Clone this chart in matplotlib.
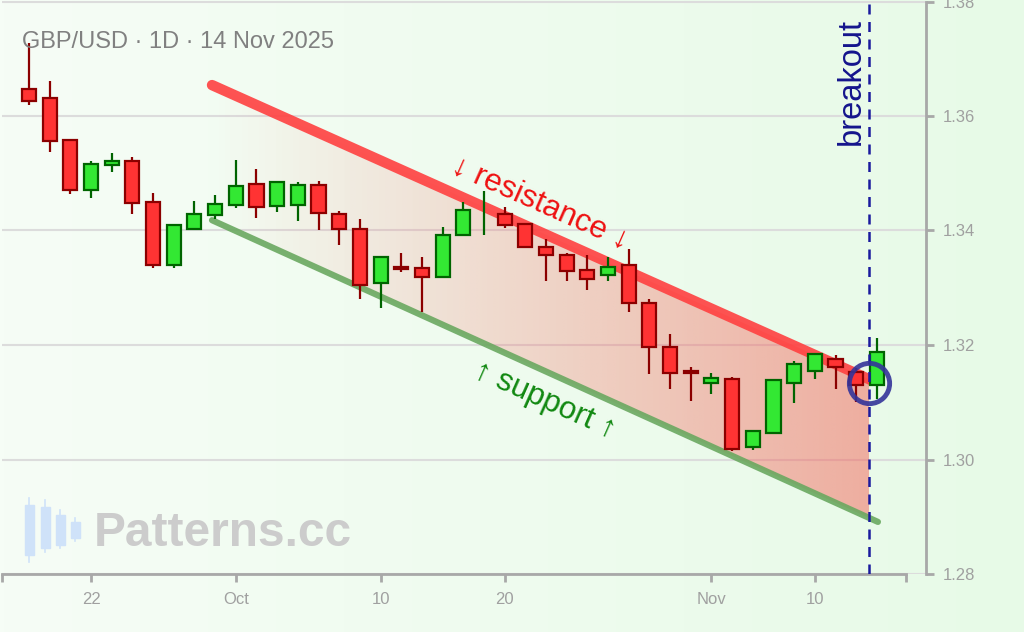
import numpy as np
import matplotlib
matplotlib.use("Agg")
import matplotlib.pyplot as plt
from matplotlib.patches import Polygon, Rectangle

plt.rcParams['font.family'] = ['Liberation Sans', 'DejaVu Sans']

# daily GBP/USD candles, 17 Sep - 13 Nov 2025 (trading days only)
opens = [1.3648, 1.3631, 1.3558, 1.3470, 1.3514, 1.3522, 1.3449, 1.3340, 1.3403, 1.3427,
         1.3445, 1.3481, 1.3442, 1.3445, 1.3480, 1.3428, 1.3403, 1.3309, 1.3337, 1.3334,
         1.3318, 1.3392, 1.3420, 1.3429, 1.3411, 1.3372, 1.3358, 1.3331, 1.3322, 1.3340,
         1.3274, 1.3197, 1.3155, 1.3134, 1.3141, 1.3022, 1.3046, 1.3134, 1.3155, 1.3176,
         1.3152, 1.3131]
closes = [1.3626, 1.3556, 1.3470, 1.3516, 1.3522, 1.3448, 1.3340, 1.3410, 1.3428, 1.3446,
          1.3477, 1.3441, 1.3484, 1.3480, 1.3431, 1.3403, 1.3305, 1.3354, 1.3332, 1.3318,
          1.3393, 1.3435, 1.3420, 1.3410, 1.3371, 1.3357, 1.3329, 1.3315, 1.3337, 1.3273,
          1.3196, 1.3151, 1.3151, 1.3142, 1.3018, 1.3050, 1.3138, 1.3166, 1.3184, 1.3162,
          1.3131, 1.3187]
highs = [1.3727, 1.3661, 1.3559, 1.3521, 1.3535, 1.3528, 1.3466, 1.3412, 1.3452, 1.3462,
         1.3524, 1.3507, 1.3485, 1.3485, 1.3486, 1.3434, 1.3420, 1.3355, 1.3360, 1.3353,
         1.3406, 1.3449, 1.3469, 1.3441, 1.3413, 1.3385, 1.3360, 1.3357, 1.3353, 1.3368,
         1.3280, 1.3220, 1.3161, 1.3151, 1.3144, 1.3051, 1.3140, 1.3172, 1.3185, 1.3183,
         1.3160, 1.3213]
lows = [1.3620, 1.3537, 1.3463, 1.3456, 1.3502, 1.3428, 1.3334, 1.3334, 1.3400, 1.3420,
        1.3439, 1.3421, 1.3432, 1.3417, 1.3400, 1.3375, 1.3281, 1.3264, 1.3327, 1.3257,
        1.3317, 1.3391, 1.3393, 1.3404, 1.3370, 1.3312, 1.3312, 1.3296, 1.3312, 1.3257,
        1.3149, 1.3124, 1.3103, 1.3114, 1.3014, 1.3017, 1.3045, 1.3099, 1.3141, 1.3124,
        1.3100, 1.3105]

tick_pos = [3, 10, 17, 23, 33, 38]
tick_labels = ['22', 'Oct', '10', '20', 'Nov', '10']
y_ticks = [1.28, 1.30, 1.32, 1.34, 1.36, 1.38]

# channel lines (x in candle index)
res_x = [8.85, 40.76]
res_y = [1.3654, 1.3138]
sup_x = [8.85, 41.05]
sup_y = [1.3418, 1.2891]
breakout_x = 40.62
breakout_price = 1.3134

fig = plt.figure(figsize=(10.24, 6.32), dpi=100)

# background
bg = fig.add_axes([0, 0, 1, 1], zorder=-5)
grad = np.linspace(0, 1, 256)
c0 = np.array([246, 253, 246]) / 255
c1 = np.array([231, 250, 231]) / 255
img = c0[None, None, :] * (1 - grad[None, :, None]) + c1[None, None, :] * grad[None, :, None]
bg.imshow(img, aspect='auto', extent=[0, 1024, 632, 0])
bg.set_xlim(0, 1024)
bg.set_ylim(632, 0)
bg.axis('off')

# watermark
for cx, b0, b1, w0, w1 in [(29, 505, 555, 498, 562), (45, 507, 548, 500, 552),
                           (60, 515, 545, 510, 548), (75, 522, 538, 518, 541)]:
    bg.plot([cx, cx], [w0, w1], color='#cfe2f9', lw=1.2)
    bg.add_patch(Rectangle((cx - 4.5, b0), 9, b1 - b0, color='#cfe2f9'))
bg.text(94, 534, 'Patterns.cc', fontsize=34.5, fontweight='bold', color='#cccccc',
        va='center', ha='left')

ax = fig.add_axes([2 / 1024, 58 / 632, 924 / 1024, 572.5 / 632])
ax.set_facecolor('none')
ax.set_xlim(-1.306, 43.375)
ax.set_ylim(1.28, 1.38)

for yv in y_ticks:
    ax.axhline(yv, color='#dcdcdc', lw=1.5, zorder=0)

x = np.arange(len(opens))

# gradient channel fill
xa, xb = res_x[0], breakout_x
ra, rb = np.interp([xa, xb], res_x, res_y)
sa, sb = np.interp([xa, xb], sup_x, sup_y)
poly = Polygon([(xa, ra), (xb, rb), (xb, sb), (xa, sa)], closed=True,
               facecolor='none', edgecolor='none')
ax.add_patch(poly)
alpha = np.linspace(0.0, 0.45, 256)
fill = np.zeros((2, 256, 4))
fill[..., 0] = 245 / 255
fill[..., 1] = 80 / 255
fill[..., 2] = 70 / 255
fill[..., 3] = alpha[None, :]
im = ax.imshow(fill, aspect='auto', extent=[xa, xb, sb, ra], zorder=1, interpolation='bilinear')
im.set_clip_path(poly)
ax.set_xlim(-1.306, 43.375)
ax.set_ylim(1.28, 1.38)

# channel lines
ax.plot(sup_x, sup_y, color='#6aa860', lw=4.5, alpha=0.9, solid_capstyle='round', zorder=2)
ax.plot(res_x, res_y, color='#ff4040', lw=7.5, alpha=0.9, solid_capstyle='round', zorder=2)

# candles
for i in x:
    o, c, h, l = opens[i], closes[i], highs[i], lows[i]
    up = c >= o
    edge = '#006400' if up else '#8b0000'
    face = '#33e833' if up else '#ff3333'
    ax.vlines(i, l, h, color=edge, lw=1.6, zorder=3)
    if o != c:
        ax.bar(i, abs(c - o), bottom=min(o, c), width=0.68, color=face,
               edgecolor=edge, linewidth=1.6, zorder=4)

# breakout marker
ax.axvline(breakout_x, color='#1a1a9e', lw=1.8, ls=(0, (4, 3)), zorder=5)
ax.plot([breakout_x], [breakout_price], marker='o', ms=29, mfc='none',
        mec='#34349a', mew=3.5, alpha=0.9, zorder=6)
ax.text(breakout_x - 0.85, 1.3660, 'breakout', rotation=90, fontsize=23.5,
        color='#14148c', ha='center', va='center')

ax.text(24.7, 1.3447, '↓ resistance ↓', rotation=-24, fontsize=22.5, color='#ee1111',
        ha='center', va='center', rotation_mode='anchor')
ax.text(24.95, 1.3104, '↑ support ↑', rotation=-24, fontsize=22.5, color='#118811',
        ha='center', va='center', rotation_mode='anchor')

ax.text(0.022, 0.93, 'GBP/USD · 1D · 14 Nov 2025', transform=ax.transAxes,
        fontsize=17, color='#808080', ha='left', va='center')

# axes styling
for s in ['top', 'left']:
    ax.spines[s].set_visible(False)
ax.spines['right'].set_color('#a8a8a8')
ax.spines['right'].set_linewidth(2)
ax.spines['bottom'].set_color('#a8a8a8')
ax.spines['bottom'].set_linewidth(2)
ax.spines['bottom'].set_bounds(-1.306, 42.41)
ax.yaxis.tick_right()
ax.set_yticks(y_ticks)
ax.set_yticklabels([f'{v:.2f}' for v in y_ticks])
ax.set_xticks([-1.306] + tick_pos + [42.41])
ax.set_xticklabels([''] + tick_labels + [''])
ax.tick_params(axis='both', colors='#a8a8a8', labelcolor='#a0a0a0', labelsize=12,
               length=6, width=2)
ax.tick_params(axis='y', pad=6)
ax.tick_params(axis='x', pad=7)

fig.savefig('out.png', dpi=100)
